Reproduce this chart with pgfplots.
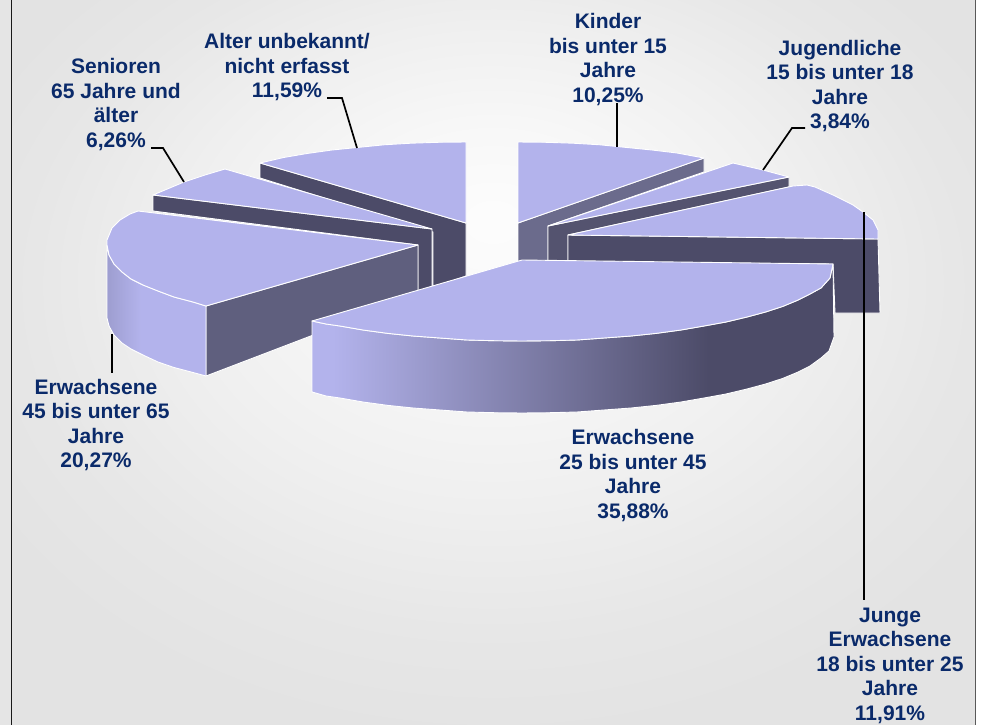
\documentclass[border=0pt]{standalone}
\usepackage{pgfplots}
\pgfplotsset{compat=1.18}
\usepackage{fontspec}
\setmainfont{Liberation Sans}
\definecolor{face}{HTML}{B3B3EC}
\definecolor{darkside}{HTML}{4C4B68}
\definecolor{midside}{HTML}{5F5F7E}
\definecolor{kindside}{HTML}{6B6B8C}
\definecolor{jugside}{HTML}{54536F}
\definecolor{labelblue}{HTML}{0A2A6A}
\pgfdeclareradialshading{bgshade}{\pgfpoint{0bp}{10bp}}{%
 color(0bp)=(white!99!black); color(8bp)=(white!97!black); color(16bp)=(white!94!black);
 color(24bp)=(white!90.5!black); color(30bp)=(white!89!black); color(50bp)=(white!89!black)}
\pgfdeclarehorizontalshading{bigside}{100bp}{%
 color(0bp)=(face); color(27bp)=(face); color(63bp)=(darkside); color(100bp)=(darkside)}
\pgfdeclarehorizontalshading{leftside}{100bp}{%
 color(0bp)=(face!88!black); color(25bp)=(face!88!black); color(42bp)=(face); color(100bp)=(face)}
\tikzset{lab/.style={align=center,text=labelblue,font=\fontsize{21}{24.5}\selectfont\bfseries,inner sep=0pt},
 edge/.style={draw=white,line width=0.9pt,line join=round},
 lead/.style={draw=black,line width=1.7pt,no markers}}
\begin{document}
\begin{tikzpicture}
\begin{axis}[width=985pt,height=725pt,scale only axis,hide axis,
  xmin=0,xmax=985,ymin=0,ymax=725,y dir=reverse,clip=true]
% background
\addplot[fill=white,draw=none] coordinates {(0,0)(985,0)(985,725)(0,725)} --cycle;
\addplot[fill=white!90!black,draw=none] coordinates {(0,0)(11,0)(11,725)(0,725)} --cycle;
\addplot[shading=bgshade,draw=none] coordinates {(11,0)(975,0)(975,725)(11,725)} --cycle;
\addplot[draw=black!90,line width=1.4pt] coordinates {(11.5,0)(11.5,725)};
\addplot[draw=black!65,line width=1.4pt] coordinates {(975.5,0)(975.5,725)};
% Alter unbekannt
\addplot[fill=darkside,edge] coordinates {(260,163)(466,223)(466,276)(433,288)(433,232)(260,178)} --cycle;
\addplot[fill=face,edge] coordinates {(466,223)(466,142)(438,142.3)(411,143.2)(384,144.8)(357,147.5)(332,150)(307,153.5)(283.6,157.5)(260,163)} --cycle;
% Senioren
\addplot[fill=darkside,edge] coordinates {(153,195)(432,229)(432,288)(418,292)(418,245)(153,211)} --cycle;
\addplot[fill=face,edge] coordinates {(432,229)(225,169)(205,175)(184,182)(153,195)} --cycle;
% Erwachsene 45-65
\addplot[fill=midside,edge] coordinates {(206,306)(418,245)(418,295)(206,376)} --cycle;
\addplot[shading=leftside,edge] coordinates {(107,245)(109,255)(114,264)(122,272)(131,279)(143,285)(158,291)(174,297)(193,302)(206,306)(206,376)(193,372.5)(174,367.5)(158,362)(143,355)(131,349)(122,343)(114,335)(109,326)(107,318)} --cycle;
\addplot[fill=face,edge] coordinates {(418,245)(138,211)(130,214)(120,220)(112,228)(107,240)(107,245)(109,255)(114,264)(122,272)(131,279)(143,285)(158,291)(174,297)(193,302)(206,306)} --cycle;
% Kinder
\addplot[fill=kindside,edge] coordinates {(518,223)(704,158)(704,172)(548,226)(548,262)(518,262)} --cycle;
\addplot[fill=face,edge] coordinates {(518,223)(518,142)(546,142.3)(573,143.2)(600,144.8)(627,147.5)(652,150)(677,153)(704,158)} --cycle;
% Jugendliche
\addplot[fill=jugside,edge] coordinates {(548,226)(789,177)(789,187)(568,235)(568,262)(548,262)} --cycle;
\addplot[fill=face,edge] coordinates {(548,226)(733,163)(763,170)(789,177)} --cycle;
% Junge Erwachsene
\addplot[fill=darkside,edge] coordinates {(568,235)(878,239)(880,313)(835,313)(833,264)(568,262)} --cycle;
\addplot[fill=face,edge] coordinates {(568,235)(878,239)(878,230)(873,220)(863,212)(853,205)(833,195)(815,187)(807,185)(793,186)} --cycle;
% Erwachsene 25-45
\addplot[shading=bigside,edge] coordinates {(312,321)(312,392)(326,396)(340,398)(363,402)(388,405.4)(413,408)(440,410)(467,412)(494,412.7)(522,413)(550,412.7)(577,412)(604,410)(631,408)(656,405.4)(681,402)(704,398)(726,394)(747,389)(765.6,384)(782.5,378.5)(797,372.5)(810,366)(821,358)(829,351)(834,337)(833,264)(830,278)(821,288)(810,294)(797,300.5)(782.5,306.5)(765.6,312)(747,317)(726,322)(704,326)(681,330)(656,333.4)(631,336)(604,338)(577,340)(550,340.7)(522,341)(494,340.7)(467,340)(440,338)(413,336)(388,333.4)(363,330)(340,326)(326,324)} --cycle;
\addplot[fill=face,edge] coordinates {(522,260)(833,264)(830,278)(821,288)(810,294)(797,300.5)(782.5,306.5)(765.6,312)(747,317)(726,322)(704,326)(681,330)(656,333.4)(631,336)(604,338)(577,340)(550,340.7)(522,341)(494,340.7)(467,340)(440,338)(413,336)(388,333.4)(363,330)(340,326)(326,324)(312,321)} --cycle;
% leader lines
\addplot[lead] coordinates {(327,98)(342,98)(357,148)};
\addplot[lead] coordinates {(151,148)(163,148)(184,182)};
\addplot[lead] coordinates {(617,103)(617,147)};
\addplot[lead] coordinates {(805,128)(792,128)(763,170)};
\addplot[lead] coordinates {(112,334)(112,373)};
\addplot[lead] coordinates {(864,212)(864,600)};
% labels
\node[lab] at (axis cs:116,104.5) {Senioren\\65 Jahre und\\älter\\6,26\%};
\node[lab] at (axis cs:287,67.5) {Alter unbekannt/\\nicht erfasst\\11,59\%};
\node[lab] at (axis cs:608,59.5) {Kinder\\bis unter 15\\Jahre\\10,25\%};
\node[lab] at (axis cs:840,86) {Jugendliche\\15 bis unter 18\\Jahre\\3,84\%};
\node[lab] at (axis cs:96,425) {Erwachsene\\45 bis unter 65\\Jahre\\20,27\%};
\node[lab] at (axis cs:633,475.5) {Erwachsene\\25 bis unter 45\\Jahre\\35,88\%};
\node[lab] at (axis cs:890,665.5) {Junge\\Erwachsene\\18 bis unter 25\\Jahre\\11,91\%};
\end{axis}
\end{tikzpicture}
\end{document}
